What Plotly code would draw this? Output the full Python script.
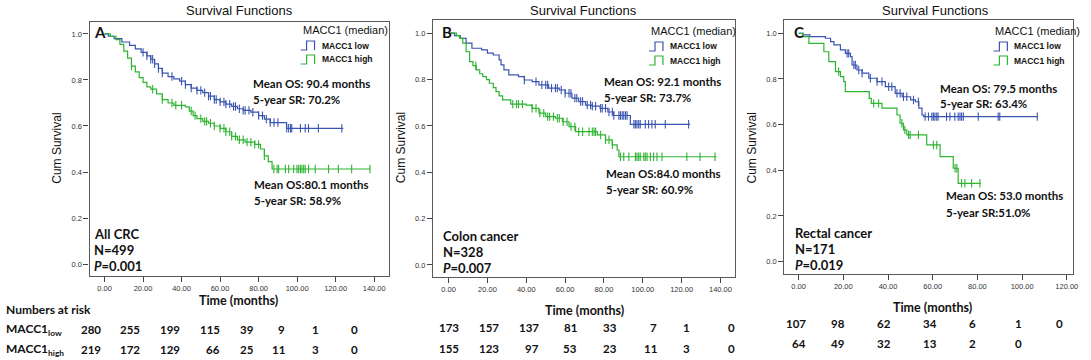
import plotly.graph_objects as go

W, H = 1091, 360

# ---------------- DATA ----------------
panels = ["A", "B", "C"]
group_names = ["All CRC", "Colon cancer", "Rectal cancer"]
group_n = ["N=499", "N=328", "N=171"]
group_p = ["0.001", "0.007", "0.019"]

low_os = ["Mean OS: 90.4 months", "Mean OS: 92.1 months", "Mean OS: 79.5 months"]
low_sr = ["5-year SR: 70.2%", "5-year SR: 73.7%", "5-year SR: 63.4%"]
high_os = ["Mean OS:80.1 months", "Mean OS:84.0 months", "Mean OS: 53.0 months"]
high_sr = ["5-year SR: 58.9%", "5-year SR: 60.9%", "5-year SR:51.0%"]

# Panel A (All CRC)
a_low_t = [0, 2, 5, 9, 13, 16, 19, 22, 24, 26, 28, 30, 33, 36, 39, 42, 45, 48, 51, 54, 57, 60, 63, 66, 69, 72, 76, 80, 83, 86, 94.5, 124]
a_low_s = [1.0, 0.99, 0.98, 0.965, 0.95, 0.935, 0.92, 0.905, 0.89, 0.87, 0.85, 0.83, 0.815, 0.805, 0.795, 0.78, 0.765, 0.755, 0.745, 0.73, 0.715, 0.705, 0.695, 0.685, 0.675, 0.668, 0.66, 0.645, 0.63, 0.615, 0.59, 0.59]
a_low_c = [20, 22, 24, 25, 26, 28, 30, 35, 40, 42, 45, 48, 50, 52, 54, 55, 57, 58, 60, 62, 63, 65, 67, 68, 70, 72, 73, 75, 77, 80, 82, 84, 86, 88, 90,
           94.6, 95.6, 96.6, 97.2, 101.7, 104.2, 105.9, 111, 123.2]
a_high_t = [0, 3, 6, 8, 10, 12, 14, 16, 18, 20, 22, 24, 27, 30, 33, 36, 42, 44, 46, 48, 51, 54, 57, 60, 63, 66, 69, 73, 78, 81, 83, 85, 87, 138]
a_high_s = [1.0, 0.99, 0.975, 0.955, 0.925, 0.895, 0.86, 0.835, 0.81, 0.79, 0.77, 0.76, 0.74, 0.715, 0.70, 0.69, 0.683, 0.665, 0.645, 0.632, 0.62, 0.612, 0.60, 0.59, 0.575, 0.555, 0.54, 0.53, 0.52, 0.50, 0.47, 0.445, 0.413, 0.413]
a_high_c = [14, 25, 30, 35, 37, 40, 45, 47, 50, 52, 53, 55, 57, 60, 62, 63, 65, 66, 68, 70, 72, 74, 76, 78, 80, 83,
            87.9, 89.6, 90.4, 93.9, 95.6, 98.2, 99.9, 100.8, 101.7, 102.5, 103.4, 104.2, 105.9, 109.4, 116.3, 121.4, 128.3, 137.8]

# Panel B (Colon cancer)
b_low_t = [0, 3, 6, 9, 12, 17, 20, 23, 26, 27, 28.5, 31, 36, 39, 43, 46.5, 51.5, 57, 60, 63.5, 67, 70.5, 74, 78, 82, 85, 93.6, 124.4]
b_low_s = [1.0, 0.99, 0.978, 0.957, 0.935, 0.928, 0.914, 0.906, 0.885, 0.863, 0.842, 0.82, 0.813, 0.798, 0.791, 0.777, 0.763, 0.755, 0.741, 0.72, 0.705, 0.69, 0.685, 0.676, 0.66, 0.645, 0.607, 0.607]
b_low_c = [39, 45, 48, 50, 51, 53, 55, 56, 58, 60, 62, 63, 65, 66, 68, 69,
           71.4, 73.1, 74, 75.7, 78.3, 79.1, 80.8, 82.6, 84.3, 85.1, 87.7, 88.5, 89.4, 90.2, 91.1, 91.9,
           95.4, 96.2, 97, 97.9, 98.7, 101.3, 103, 104.7, 106.4, 111.6, 123.6]
b_high_t = [0, 4, 5.6, 7.3, 9, 10.8, 12.5, 14.2, 16, 17.6, 19.5, 21, 23, 24.4, 26, 27.8, 32, 40, 43, 46.5, 50, 55, 58.6, 62, 65.4, 76.6, 80.8, 84.3, 86.8, 87.7, 138]
b_high_s = [1.0, 0.99, 0.978, 0.957, 0.92, 0.877, 0.86, 0.842, 0.825, 0.813, 0.80, 0.784, 0.765, 0.748, 0.73, 0.712, 0.694, 0.69, 0.676, 0.655, 0.64, 0.633, 0.618, 0.597, 0.575, 0.561, 0.54, 0.518, 0.496, 0.467, 0.467]
b_high_c = [14, 33, 35, 36, 38, 43, 45, 47, 49, 51, 52, 54, 56, 57, 59, 61, 63, 65, 67, 69,
            72.3, 74, 74.9, 75.7, 78.3, 80.8, 82.6, 84.3, 88.5, 90.2, 92.8, 96.2, 97, 97.9, 98.7,
            100.5, 101.3, 102.2, 103.9, 105.6, 107.3, 109.9, 122.7, 129.5, 137.2]

# Panel C (Rectal cancer)
c_low_t = [0, 2, 5, 12, 14.3, 15.8, 18.7, 20.9, 23.2, 23.9, 26.1, 28.4, 31.4, 35.1, 38.8, 43.2, 46.3, 50.1, 52.3, 53.8, 55.2, 55.9, 106.8]
c_low_s = [1.0, 0.993, 0.985, 0.978, 0.963, 0.949, 0.927, 0.912, 0.898, 0.861, 0.839, 0.825, 0.803, 0.788, 0.766, 0.737, 0.722, 0.708, 0.70, 0.672, 0.642, 0.635, 0.635]
c_low_c = [21.7, 22.4, 24.7, 25.4, 26.9, 28.4, 32.1, 35.1, 37.3, 40.3, 41.7, 44, 45.4, 46.9, 48.4, 51.4, 53.6,
           56.6, 58.1, 59.6, 60.3, 61, 61.8, 62.4, 66.2, 67.7, 69.9, 71.4, 72.2, 72.9, 73.7, 80.4, 89.3, 90, 106.8]
c_high_t = [0, 2, 4.6, 11.3, 13.5, 16.5, 18.7, 20.2, 20.9, 31.6, 32.5, 37.3, 44, 45.4, 46.9, 48.4, 57.3, 63.3, 69.2, 71.4, 81.5]
c_high_s = [1.0, 0.985, 0.956, 0.919, 0.876, 0.832, 0.81, 0.788, 0.744, 0.715, 0.693, 0.672, 0.642, 0.606, 0.577, 0.555, 0.511, 0.46, 0.409, 0.343, 0.343]
c_high_c = [17.9, 33.6, 35.8, 46.2, 47.5, 49.2, 49.9, 53.6, 60.3, 61.8, 70.0, 70.8, 72.9, 74.4, 77.4, 81.1]

low_t = [a_low_t, b_low_t, c_low_t]
low_s = [a_low_s, b_low_s, c_low_s]
low_c = [a_low_c, b_low_c, c_low_c]
high_t = [a_high_t, b_high_t, c_high_t]
high_s = [a_high_s, b_high_s, c_high_s]
high_c = [a_high_c, b_high_c, c_high_c]

x_ticks_a = [0, 20, 40, 60, 80, 100, 120, 140]
x_ticks_c = [0, 20, 40, 60, 80, 100, 120]
y_ticks = [0.0, 0.2, 0.4, 0.6, 0.8, 1.0]

risk_low = [[280, 255, 199, 115, 39, 9, 1, 0],
            [173, 157, 137, 81, 33, 7, 1, 0],
            [107, 98, 62, 34, 6, 1, 0]]
risk_high = [[219, 172, 129, 66, 25, 11, 3, 0],
             [155, 123, 97, 53, 23, 11, 3, 0],
             [64, 49, 32, 13, 2, 0]]

# ---------------- LAYOUT (pixel geometry) ----------------
BLUE = "#3A55B0"
GREEN = "#2DB431"
TXT = "#111111"
SANS = "Liberation Sans, Arial, sans-serif"
CAL = "Lato, Carlito, Calibri, sans-serif"

box_px = [(90, 391, 22, 276), (435, 738, 20, 277), (788, 1078, 20, 274)]
x_ranges = [[-7.75, 147.8], [-8.05, 147.3], [-6.37, 122.8]]
y_ranges = [[-0.052, 1.052], [-0.052, 1.057], [-0.054, 1.058]]
title_cx = [241, 586, 940]
ylab_cx = [57, 403, 755]
time_c = [(240, 300), (587, 310), (937, 307)]
letter_xy = [(92, 32), (442, 32), (796, 32)]
low_txt_xy = [(252, 83), (605, 82), (942, 88)]
high_txt_xy = [(253, 184), (607, 173), (948, 196)]
grp_xy = [(92, 234), (443, 236), (797, 233)]
leg_xy = [(302, 30), (652, 31), (998, 31)]
risk_right = [[103, 143, 183, 223, 257, 288, 322, 362],
              [463, 503, 543, 582, 622, 662, 695, 740],
              [812, 851, 897, 943, 983, 1029, 1070]]
risk_rows_y = [(329, 349), (327, 348), (323, 343)]


def px(x):
    return x / W


def py(y):
    return 1 - y / H


def surv_at(t, times, surv):
    v = surv[0]
    for ti, si in zip(times, surv):
        if ti <= t:
            v = si
        else:
            break
    return v


fig = go.Figure()
annotations = []
shapes = []


def ann(x, y, text, size, family=CAL, xanchor="left", bold=False, **kw):
    annotations.append(dict(x=px(x), y=py(y), xref="paper", yref="paper",
                            text=("<b>%s</b>" % text) if bold else text,
                            showarrow=False, xanchor=xanchor, yanchor="middle",
                            font=dict(family=family, size=size, color=TXT), **kw))


for i in range(3):
    sfx = "" if i == 0 else str(i + 1)
    xa, ya = "x" + sfx, "y" + sfx
    for t, s, c, col in [(low_t[i], low_s[i], low_c[i], BLUE), (high_t[i], high_s[i], high_c[i], GREEN)]:
        fig.add_trace(go.Scatter(x=t, y=s, mode="lines", line=dict(color=col, width=1.2, shape="hv"),
                                 xaxis=xa, yaxis=ya, showlegend=False, hoverinfo="skip"))
        fig.add_trace(go.Scatter(x=c, y=[surv_at(v, t, s) for v in c], mode="markers",
                                 marker=dict(symbol="line-ns", size=6, line=dict(color=col, width=1.1)),
                                 xaxis=xa, yaxis=ya, showlegend=False, hoverinfo="skip"))

    x0, x1, y0, y1 = box_px[i]
    xt = x_ticks_a if i < 2 else x_ticks_c
    axis_common = dict(showgrid=False, zeroline=False, showline=True, mirror=True,
                       linecolor="#5a5a5a", linewidth=1.3, ticks="outside",
                       tickcolor="#444", tickwidth=1.3,
                       tickfont=dict(family=SANS, size=7.5, color="#333"))
    fig.update_layout(**{
        "xaxis" + sfx: dict(domain=[px(x0), px(x1)], range=x_ranges[i], anchor=ya,
                            tickvals=xt, ticktext=["%.2f" % v for v in xt], ticklen=5, **axis_common),
        "yaxis" + sfx: dict(domain=[py(y1), py(y0)], range=y_ranges[i], anchor=xa,
                            tickvals=y_ticks, ticktext=["%.1f" % v for v in y_ticks], ticklen=5, **axis_common),
    })

    ann(title_cx[i], 10, "Survival Functions", 13, family=SANS, xanchor="center")
    ann(ylab_cx[i], 148, "Cum Survival", 12, family=SANS, xanchor="center", textangle=-90)
    ann(time_c[i][0], time_c[i][1], "Time (months)", 12.5, xanchor="center", bold=True)
    ann(letter_xy[i][0], letter_xy[i][1], panels[i], 15, bold=True)
    ann(low_txt_xy[i][0], low_txt_xy[i][1], low_os[i], 11.5, bold=True)
    ann(low_txt_xy[i][0], low_txt_xy[i][1] + 16, low_sr[i], 11.5, bold=True)
    ann(high_txt_xy[i][0], high_txt_xy[i][1], high_os[i], 11.5, bold=True)
    ann(high_txt_xy[i][0], high_txt_xy[i][1] + 16, high_sr[i], 11.5, bold=True)
    gx, gy = grp_xy[i]
    ann(gx, gy, group_names[i], 13, bold=True)
    ann(gx, gy + 16, group_n[i], 13, bold=True)
    ann(gx, gy + 32, "<i>P</i>=" + group_p[i], 13, bold=True)

    # legend
    lx, ly = leg_xy[i]
    ann(lx, ly, "MACC1 (median)", 11, family=SANS)
    for k, (col, lab) in enumerate([(BLUE, "MACC1 low"), (GREEN, "MACC1 high")]):
        top = ly + 11 + k * 14
        bot = top + 9
        path = "M %f,%f L %f,%f L %f,%f L %f,%f L %f,%f" % (
            px(lx), py(bot), px(lx + 6), py(bot), px(lx + 6), py(top), px(lx + 14), py(top), px(lx + 14), py(bot))
        shapes.append(dict(type="path", xref="paper", yref="paper", path=path, line=dict(color=col, width=1.2)))
        ann(lx + 19, (top + bot) / 2, lab, 8.5, family=SANS, bold=True)

    # numbers at risk
    ry1, ry2 = risk_rows_y[i]
    for j, v in enumerate(risk_low[i]):
        ann(risk_right[i][j], ry1, str(v), 11.5, xanchor="right", bold=True)
    for j, v in enumerate(risk_high[i]):
        ann(risk_right[i][j], ry2, str(v), 11.5, xanchor="right", bold=True)

ann(4, 309, "Numbers at risk", 12, bold=True)
ann(4, 329, "MACC1<sub>low</sub>", 12, bold=True)
ann(4, 349, "MACC1<sub>high</sub>", 12, bold=True)

fig.update_layout(width=W, height=H, margin=dict(l=0, r=0, t=0, b=0, pad=0),
                  paper_bgcolor="white", plot_bgcolor="white", showlegend=False,
                  annotations=annotations, shapes=shapes)

fig.write_html("out.html", config={"displayModeBar": False},
               post_script="document.body.style.margin='0';document.body.style.overflow='hidden';")
